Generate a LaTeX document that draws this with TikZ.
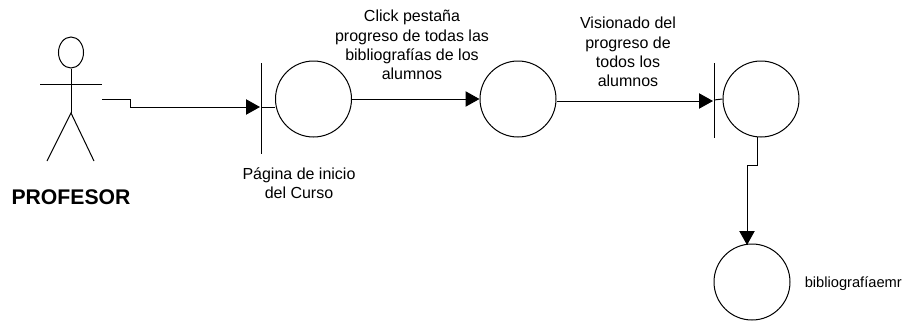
\documentclass[tikz,border=0pt]{standalone}
\usepackage{fontspec}
\setmainfont{Liberation Sans}
\usetikzlibrary{arrows.meta,shapes.geometric}
\tikzset{
  ctl/.style={circle,draw=black,line width=0.75pt,minimum size=57pt,inner sep=0pt,fill=white},
  lbl/.style={font=\fontsize{12}{14.5}\selectfont,align=center,inner sep=0pt},
  wire/.style={draw=black,line width=0.75pt},
  flow/.style={wire,-{Triangle[length=10.5pt,width=11.5pt]}}
}
\begin{document}
\begin{tikzpicture}[x=0.75pt,y=-0.75pt]
\useasboundingbox (0,0) rectangle (915,325);
% actor
\node[ellipse,draw=black,line width=0.75pt,minimum width=18.75pt,minimum height=23.25pt,inner sep=0pt] (head) at (71,52.5) {};
\coordinate (crotch) at (71,113);
\coordinate (armL) at (40,84);
\coordinate (armR) at (102,84);
\coordinate (legL) at (47,161);
\coordinate (legR) at (94,161);
\draw[wire] (head.south) -- (crotch);
\draw[wire] (armL) -- (armR);
\draw[wire] (legL) -- (crotch) -- (legR);
\node[font=\bfseries\fontsize{15.9}{18}\selectfont,inner sep=0pt,anchor=base] (prof) at (71,204) {PROFESOR};
% circles
\node[ctl] (c1) at (313.5,99) {};
\node[ctl] (c2) at (518,99) {};
\node[ctl] (c3) at (761,99) {};
\node[ctl] (c4) at (752,282) {};
% boundary bars
\coordinate (b1t) at (261,63);
\coordinate (b1b) at (261,154);
\coordinate (b1a) at (260,107);
\coordinate (b1s) at (261,107.5);
\coordinate (b3t) at (714,63);
\coordinate (b3b) at (714,138);
\coordinate (b3a) at (713,101);
\coordinate (b3s) at (714,100);
\draw[wire] (b1t) -- (b1b);
\draw[wire] (b3t) -- (b3b);
\draw[wire] (b1s) -- (c1.west |- b1s);
\draw[wire] (b3s) -- (c3.west);
% connectors
\coordinate (start) at (102,99);
\coordinate (j1) at (130,99);
\coordinate (j2) at (130,107);
\draw[flow] (start) -- (j1) -- (j2) -- (b1a);
\draw[flow] (c1.east) -- (c2.west);
\draw[flow] (c2.east |- b3a) -- (b3a);
\coordinate (d0) at (757,137);
\coordinate (d1) at (757,165);
\coordinate (d2) at (747,165);
\coordinate (d3) at (747,245);
\draw[flow] (d0) -- (d1) -- (d2) -- (d3);
% labels
\node[lbl] (l1) at (299,183.5) {Página de inicio\\del Curso};
\node[lbl] (l2) at (412,45) {Click pestaña\\progreso de todas las\\bibliografías de los\\alumnos};
\node[lbl] (l3) at (628,52) {Visionado del\\progreso de\\todos los\\alumnos};
\node[font=\fontsize{11}{13}\selectfont,inner sep=0pt,anchor=base west] (l4) at (804.5,287) {bibliografíaemr};
\end{tikzpicture}
\end{document}
